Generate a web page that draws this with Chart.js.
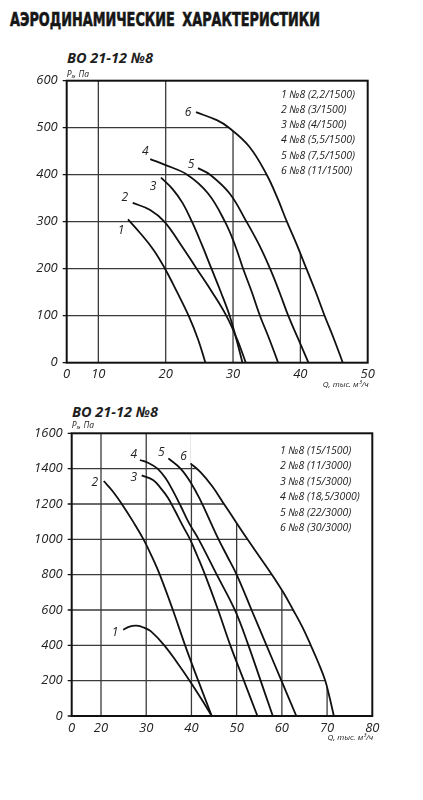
<!DOCTYPE html>
<html lang="ru">
<head>
<meta charset="utf-8">
<title>ВО 21-12 №8 — аэродинамические характеристики</title>
<script src="https://cdn.jsdelivr.net/npm/chart.js@4.4.1/dist/chart.umd.min.js"></script>
<style>
  html, body { margin: 0; padding: 0; background: #fff; }
  body { width: 423px; height: 800px; position: relative; overflow: hidden; }
  .head { position: absolute; left: 10px; top: 9.5px; font: bold 19.5px "Liberation Sans Narrow", "DejaVu Sans Condensed", sans-serif;
          line-height: 1; color: #161616; white-space: nowrap; transform-origin: 0 0; word-spacing: 4px; -webkit-text-stroke: 0.6px #161616; }
  .sub { position: absolute; font: italic bold 14.5px "Open Sans", sans-serif; line-height: 1; color: #1e1e1e; white-space: nowrap; }
  canvas { position: absolute; left: 0; }
</style>
</head>
<body>
<div class="head" id="head">АЭРОДИНАМИЧЕСКИЕ ХАРАКТЕРИСТИКИ</div>
<div class="sub" style="left:67px;top:50.5px">ВО 21-12 №8</div>
<div class="sub" style="left:72px;top:404.5px">ВО 21-12 №8</div>
<canvas id="chartTop" width="423" height="360" style="top:40px"></canvas>
<canvas id="chartBottom" width="423" height="360" style="top:400px"></canvas>
<script>
// Q (тыс. м3/ч), Ps (Па)

// upper chart, 1500 rpm
const topLabels = ['№8 (2,2/1500)', '№8 (3/1500)', '№8 (4/1500)', '№8 (5,5/1500)', '№8 (7,5/1500)', '№8 (11/1500)'];
const top1 = [[14.4, 305], [16.2, 276], [18.2, 240], [19.9, 200], [21.7, 150], [23.4, 100], [24.8, 50], [25.9, 0]];
const top2 = [[15.1, 340], [17.7, 325], [19.8, 300], [22.3, 250], [24.6, 200], [26.9, 150], [29.0, 100], [30.6, 50], [31.9, 0]];
const top3 = [[19.3, 394], [21.0, 370], [22.5, 340], [23.9, 300], [25.4, 250], [26.8, 200], [28.2, 150], [29.5, 100], [30.5, 50], [31.4, 0]];
const top4 = [[17.7, 433], [19.9, 421], [23.2, 400], [26.3, 360], [28.8, 300], [30.3, 250], [31.5, 200], [32.8, 150], [34.0, 100], [35.4, 50], [36.7, 0]];
const top5 = [[24.8, 414], [26.6, 400], [29.5, 360], [32.0, 300], [33.9, 250], [35.5, 200], [36.9, 150], [38.2, 100], [39.7, 50], [41.2, 0]];
const top6 = [[24.5, 533], [27.6, 516], [29.4, 500], [32.4, 460], [35.0, 400], [36.6, 350], [38.0, 300], [39.5, 250], [40.9, 200], [42.3, 150], [43.6, 100], [45.0, 50], [46.3, 0]];
const topXTicks = [0, 10, 20, 30, 40, 50];
const topYTicks = [0, 100, 200, 300, 400, 500, 600];

// lower chart
const botLabels = ['№8 (15/1500)', '№8 (11/3000)', '№8 (15/3000)', '№8 (18,5/3000)', '№8 (22/3000)', '№8 (30/3000)'];
const bot1 = [[24.9, 488], [26.3, 506], [27.9, 511], [29.5, 500], [31.0, 480], [34.0, 400], [36.9, 300], [39.6, 200], [42.1, 100], [44.5, 0]];
const bot2 = [[20.6, 1330], [22.5, 1275], [24.6, 1200], [27.1, 1100], [29.4, 1000], [31.3, 900], [33.0, 800], [35.9, 600], [38.6, 400], [41.5, 200], [44.5, 0]];
const bot3 = [[29.0, 1362], [31.5, 1335], [33.2, 1290], [34.8, 1235], [36.4, 1160], [38.0, 1080], [39.7, 1000], [41.4, 900], [43.0, 800], [45.9, 600], [48.6, 400], [51.6, 200], [54.6, 0]];
const bot4 = [[28.6, 1449], [30.5, 1432], [32.5, 1400], [34.3, 1345], [36.0, 1270], [37.6, 1190], [39.5, 1090], [41.6, 1000], [45.6, 800], [49.6, 600], [52.6, 400], [55.3, 200], [58.0, 0]];
const bot5 = [[34.9, 1458], [37.6, 1400], [40.0, 1315], [42.0, 1220], [44.0, 1110], [46.0, 1000], [48.0, 900], [50.0, 800], [53.3, 600], [56.6, 400], [59.9, 200], [63.2, 0]];
const bot6 = [[39.8, 1430], [42.0, 1380], [44.6, 1300], [47.2, 1200], [49.8, 1100], [52.4, 1000], [55.1, 900], [57.8, 800], [60.3, 700], [62.5, 600], [64.6, 500], [66.4, 400], [68.1, 300], [69.6, 200], [70.6, 100], [71.5, 0]];
const botXTicks = [0, 20, 30, 40, 50, 60, 70, 80];
const botYTicks = [0, 200, 400, 600, 800, 1000, 1200, 1400, 1600];

Chart.defaults.font.family = '"Open Sans", "Noto Sans", sans-serif';
Chart.defaults.color = '#222';

// grid that stops at the outer curve, frame, curve numbers, legend, axis titles
const curvePlugin = {
  id: 'curves',
  beforeDatasetsDraw(chart, args, o) {
    const { ctx, chartArea: a, scales: { x, y } } = chart;
    const env = chart.getDatasetMeta(chart.data.datasets.length - 1).data;
    ctx.save();
    ctx.beginPath();
    ctx.moveTo(a.left, a.top);
    ctx.lineTo(env[0].x, a.top);
    ctx.lineTo(env[0].x, env[0].y);
    for (let i = 1; i < env.length; i++) {
      const p = env[i - 1], q = env[i];
      ctx.bezierCurveTo(p.cp2x, p.cp2y, q.cp1x, q.cp1y, q.x, q.y);
    }
    ctx.lineTo(a.left, a.bottom);
    ctx.closePath();
    ctx.clip();
    ctx.strokeStyle = '#3a3a3a';
    ctx.lineWidth = 1.3;
    ctx.beginPath();
    x.ticks.slice(1, -1).forEach(t => {
      const px = x.getPixelForValue(t.value);
      ctx.moveTo(px, a.top); ctx.lineTo(px, a.bottom);
    });
    y.ticks.slice(1, -1).forEach(t => {
      const py = y.getPixelForValue(t.value);
      ctx.moveTo(a.left, py); ctx.lineTo(a.right, py);
    });
    ctx.stroke();
    ctx.restore();
  },
  afterDatasetsDraw(chart, args, o) {
    const { ctx, chartArea: a, scales: { y } } = chart;
    ctx.save();
    ctx.strokeStyle = '#111';
    ctx.lineWidth = 2;
    ctx.strokeRect(a.left, a.top, a.width, a.height);
    ctx.lineWidth = 1.3;
    ctx.beginPath();
    y.ticks.forEach(t => {
      const py = y.getPixelForValue(t.value);
      ctx.moveTo(a.left - 4, py); ctx.lineTo(a.left, py);
    });
    ctx.stroke();

    ctx.fillStyle = '#222';
    ctx.textAlign = 'center';
    ctx.textBaseline = 'middle';
    ctx.font = 'italic 12px "Open Sans", sans-serif';
    chart.data.datasets.forEach((ds, i) => {
      const p = chart.getDatasetMeta(i).data[0];
      ctx.fillText(String(i + 1), p.x + o.numberOffsets[i][0], p.y + o.numberOffsets[i][1]);
    });

    ctx.textAlign = 'left';
    ctx.font = 'italic 10.5px "Open Sans", sans-serif';
    chart.data.datasets.forEach((ds, i) => {
      ctx.fillText((i + 1) + ' ' + ds.label, a.left + o.legendX, a.top + o.legendY + i * o.legendStep);
    });

    // Ps, Па
    let tx = a.left, ty = a.top + o.psY;
    ctx.font = 'italic 8.5px "Open Sans", sans-serif';
    ctx.fillText('P', tx, ty);
    tx += ctx.measureText('P').width;
    ctx.font = 'italic 6px "Open Sans", sans-serif';
    ctx.fillText('s', tx, ty + 2);
    tx += ctx.measureText('s').width;
    ctx.font = 'italic 8.5px "Open Sans", sans-serif';
    ctx.fillText(', Па', tx, ty);

    ctx.textAlign = 'right';
    ctx.font = 'italic 8px "Open Sans", sans-serif';
    ctx.fillText('Q, тыс. м³/ч', a.right + 1, a.bottom + 22);
    ctx.restore();
  }
};

function makeChart(id, curves, labels, xTicks, yTicks, xMin, box, extra) {
  const tickFont = { size: 13, style: 'italic' };
  return new Chart(document.getElementById(id), {
    type: 'line',
    data: {
      datasets: curves.map((c, i) => ({
        label: labels[i],
        data: c.map(([q, p]) => ({ x: q, y: p })),
        borderColor: '#111',
        borderWidth: 1.8,
        pointRadius: 0,
        tension: 0.4,
        fill: false
      }))
    },
    options: {
      responsive: false,
      animation: false,
      events: [],
      layout: { padding: { left: 0, right: box.right, top: box.top, bottom: 0 } },
      scales: {
        x: {
          type: 'linear',
          min: xMin,
          max: xTicks[xTicks.length - 1],
          afterBuildTicks: s => { s.ticks = xTicks.map((v, i) => ({ value: i === 0 ? xMin : v })); },
          afterFit: s => { s.height = box.xHeight; },
          grid: { display: false, drawTicks: false },
          border: { display: false },
          ticks: { font: tickFont, color: '#222', padding: 4, maxRotation: 0, autoSkip: false,
                   callback: (v, i) => String(xTicks[i]) }
        },
        y: {
          min: yTicks[0],
          max: yTicks[yTicks.length - 1],
          afterBuildTicks: s => { s.ticks = yTicks.map(v => ({ value: v })); },
          afterFit: s => { s.width = box.yWidth; },
          grid: { display: false, drawTicks: false },
          border: { display: false },
          ticks: { font: tickFont, color: '#222', padding: 9, autoSkip: false,
                   callback: (v, i) => String(yTicks[i]) }
        }
      },
      plugins: {
        legend: { display: false },
        tooltip: { enabled: false },
        curves: extra
      }
    },
    plugins: [curvePlugin]
  });
}

makeChart('chartTop', [top1, top2, top3, top4, top5, top6], topLabels, topXTicks, topYTicks, 5.3,
  { right: 55.3, top: 40.7, xHeight: 37.3, yWidth: 66.7 },
  { numberOffsets: [[-7, 11], [-8, -5], [-8, 9], [-5, -8], [-7, -4], [-8, 0]],
    legendX: 214.3, legendY: 14.3, legendStep: 15.15, psY: -6.2 });

makeChart('chartBottom', [bot1, bot2, bot3, bot4, bot5, bot6], botLabels, botXTicks, botYTicks, 13.52,
  { right: 50.7, top: 33.3, xHeight: 44, yWidth: 71.7 },
  { numberOffsets: [[-8, 3], [-9, 2], [-8, 2], [-6, -5], [-7, -6], [-7, -7]],
    legendX: 208.3, legendY: 17.7, legendStep: 15.45, psY: -7.8 });

// squeeze the heading to the width it has in the original
const head = document.getElementById('head');
head.style.transform = 'scaleX(' + (310 / head.getBoundingClientRect().width) + ')';
</script>
</body>
</html>
